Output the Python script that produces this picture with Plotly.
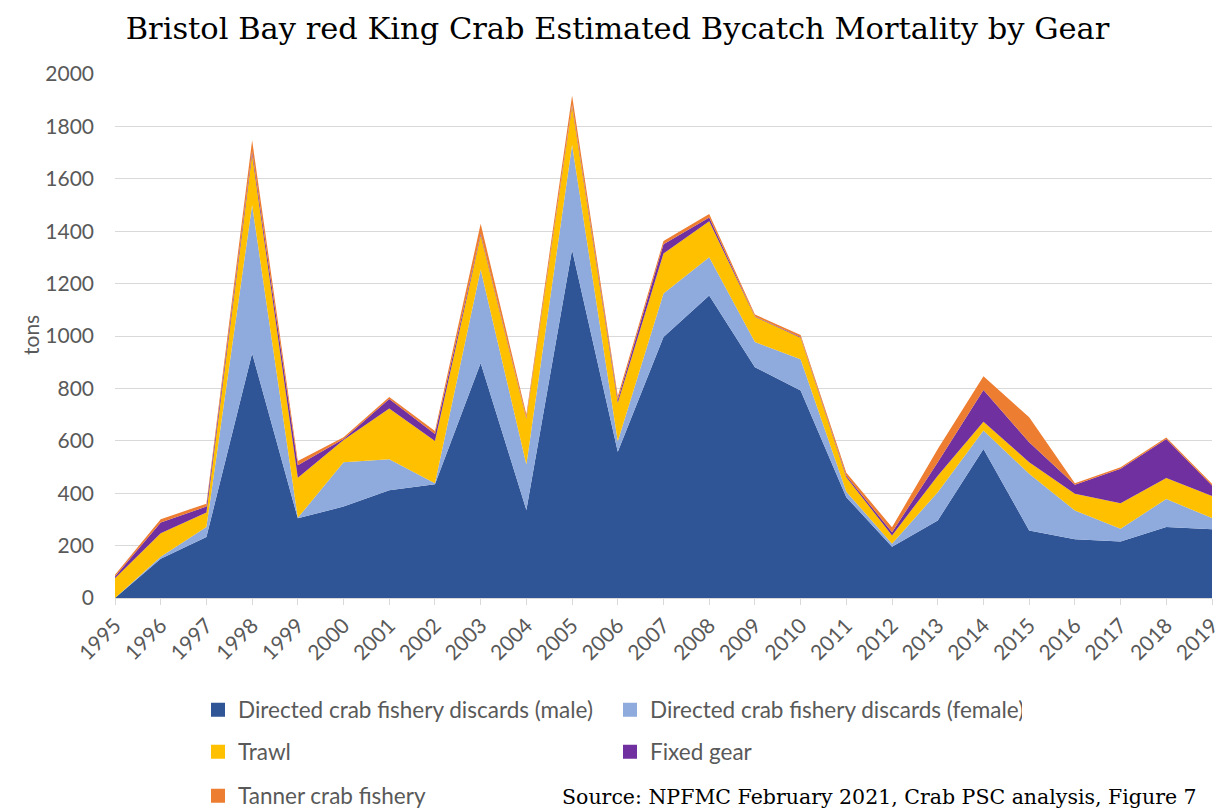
import plotly.graph_objects as go

years = list(range(1995, 2020))
year_labels = [str(y) for y in years]

# Stacked layer values (tons)
male = [0, 150, 233, 934, 304, 349, 411, 434, 897, 336, 1329, 558, 996, 1155, 881, 792,
        385, 196, 296, 569, 258, 224, 216, 271, 262]
female = [0, 7, 38, 566, 2, 169, 119, 4, 357, 174, 401, 40, 166, 146, 96, 119,
          21, 11, 108, 70, 216, 110, 48, 107, 43]
trawl = [75, 90, 55, 192, 153, 85, 193, 161, 130, 175, 147, 147, 153, 137, 96, 82,
         55, 32, 63, 34, 44, 64, 98, 80, 84]
fixed_gear = [7, 41, 23, 13, 48, 4, 37, 27, 6, 3, 7, 12, 35, 14, 2, 3,
              6, 12, 51, 121, 76, 34, 131, 149, 40]
tanner = [7, 13, 11, 42, 16, 7, 7, 11, 38, 12, 34, 13, 13, 14, 7, 8,
          11, 19, 51, 52, 96, 6, 6, 6, 7]

series_names = ["Directed crab fishery discards (male)",
                "Directed crab fishery discards (female)",
                "Trawl", "Fixed gear", "Tanner crab fishery"]
series_values = [male, female, trawl, fixed_gear, tanner]
series_colors = ["#2F5597", "#8FAADC", "#FFC000", "#7030A0", "#ED7D31"]
legend_ids = ["legend", "legend", "legend2", "legend2", "legend3"]

W, H = 1225, 811

fig = go.Figure()
for name, vals, color in zip(series_names, series_values, series_colors):
    fig.add_trace(go.Scatter(
        x=years, y=vals, name=name, mode="lines",
        stackgroup="one", line=dict(width=0, color=color),
        fillcolor=color, showlegend=False, hoverinfo="x+y+name",
    ))

# legend-only entries with square swatches (as in the original)
for name, color, lg in zip(series_names, series_colors, legend_ids):
    fig.add_trace(go.Scatter(
        x=[None], y=[None], name=name, mode="markers",
        marker=dict(symbol="square", size=14, color=color),
        legend=lg, showlegend=True,
    ))

legend_common = dict(
    orientation="h", xanchor="left", yanchor="middle",
    xref="container", yref="container",
    font=dict(family="Lato", size=22.5, color="#595959"),
    entrywidth=367, entrywidthmode="pixels",
    bgcolor="rgba(0,0,0,0)", itemwidth=30,
    traceorder="normal",
)

plot_left, plot_right, plot_top, plot_bottom = 115, 1212, 74, 598
plot_w = plot_right - plot_left
plot_h = plot_bottom - plot_top

fig.update_layout(
    width=W, height=H,
    paper_bgcolor="white", plot_bgcolor="white",
    margin=dict(l=plot_left, r=W - plot_right, t=plot_top, b=H - plot_bottom, autoexpand=False),
    title=dict(
        text="Bristol Bay red King Crab Estimated Bycatch Mortality by Gear",
        font=dict(family="DejaVu Serif", size=30.5, color="#000000"),
        x=617.5 / W, xanchor="center", xref="container",
        y=1 - 28 / H, yanchor="middle", yref="container",
    ),
    showlegend=True,
    legend=dict(x=198 / W, y=1 - 710 / H, **legend_common),
    legend2=dict(x=198 / W, y=1 - 752 / H, **legend_common),
    legend3=dict(x=198 / W, y=1 - 796 / H, **legend_common),
    xaxis=dict(
        range=[1995, 2019], tickvals=years, ticktext=year_labels,
        tickangle=-45, ticks="outside", ticklen=6, tickcolor="#D9D9D9",
        showline=True, linecolor="#D9D9D9", linewidth=1,
        showgrid=False, zeroline=False, automargin=False,
        ticklabeloverflow="allow",
        tickfont=dict(family="Lato", size=21, color="#595959"),
    ),
    yaxis=dict(
        range=[0, 2000], dtick=200, tick0=0,
        showgrid=True, gridcolor="#D9D9D9", gridwidth=1,
        zeroline=False, showline=False, ticks="", automargin=False,
        ticklabelstandoff=20,
        tickfont=dict(family="Lato", size=21, color="#595959"),
    ),
    annotations=[
        dict(
            text="tons", textangle=-90,
            xref="paper", yref="paper",
            x=(30 - plot_left) / plot_w, y=(plot_bottom - 335) / plot_h,
            xanchor="center", yanchor="middle", showarrow=False,
            font=dict(family="Lato", size=21, color="#595959"),
        ),
        dict(
            text="Source: NPFMC February 2021, Crab PSC analysis, Figure 7",
            xref="paper", yref="paper",
            x=(560 - plot_left) / plot_w,
            y=(plot_bottom - 797) / plot_h,
            xanchor="left", yanchor="middle", showarrow=False,
            font=dict(family="DejaVu Serif", size=20.5, color="#000000"),
        ),
    ],
)

# remove the default 8px page margin so the figure fills the window exactly
fig.write_html("out.html", post_script="document.body.style.margin='0';",
               config={"displayModeBar": False})
